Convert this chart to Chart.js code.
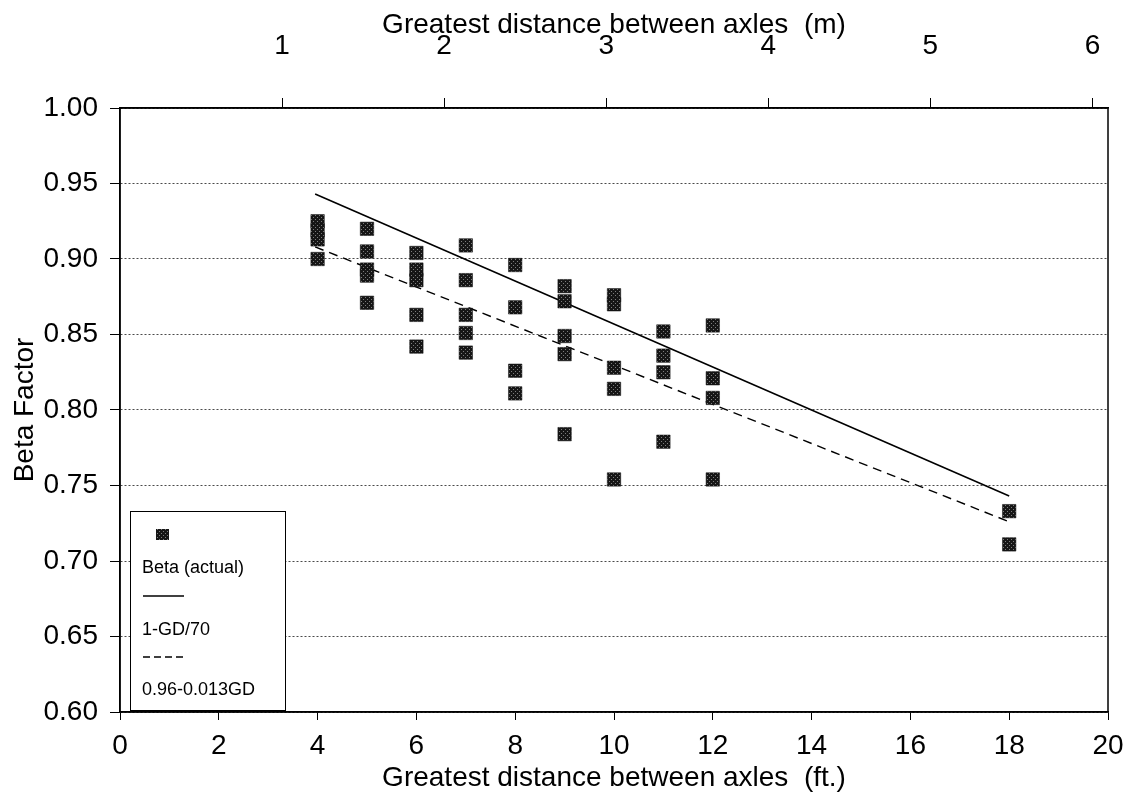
<!DOCTYPE html>
<html>
<head>
<meta charset="utf-8">
<title>Beta Factor vs greatest distance between axles</title>
<script src="https://cdn.jsdelivr.net/npm/chart.js@4.4.1/dist/chart.umd.min.js"></script>
<style>
  html, body { margin: 0; padding: 0; background: #fff; }
</style>
</head>
<body>
<canvas id="myChart" width="1129" height="799"></canvas>
<script>
'use strict';

let gdFt = [
    4, 4, 4, 4,
    5, 5, 5, 5, 5,
    6, 6, 6, 6, 6,
    7, 7, 7, 7, 7,
    8, 8, 8, 8,
    9, 9, 9, 9, 9,
    10, 10, 10, 10, 10,
    11, 11, 11, 11,
    12, 12, 12, 12,
    18, 18
];
let betaActual = [
    0.925, 0.919, 0.913, 0.900,
    0.920, 0.905, 0.893, 0.889, 0.871,
    0.904, 0.893, 0.886, 0.863, 0.842,
    0.909, 0.886, 0.863, 0.851, 0.838,
    0.896, 0.868, 0.826, 0.811,
    0.882, 0.872, 0.849, 0.837, 0.784,
    0.876, 0.870, 0.828, 0.814, 0.754,
    0.852, 0.836, 0.825, 0.779,
    0.856, 0.821, 0.808, 0.754,
    0.733, 0.711
];

// the two fitted lines, end points only
let lineGD = [3.95, 18];
let lineSolid = [0.943, 0.743];
let lineDashed = [0.908, 0.726];

let seriesNames = ['Beta (actual)', '1-GD/70', '0.96-0.013GD'];
let metreTicks = [1, 2, 3, 4, 5, 6];

const FT_PER_M = 3.28084;
const FONT = '"Liberation Sans", Arial, Helvetica, sans-serif';

let canvas = document.getElementById('myChart');
let ctx = canvas.getContext('2d');

// black square with a light dot texture, like the scanned markers
function markerPattern() {
    let c = document.createElement('canvas');
    c.width = 4;
    c.height = 4;
    let g = c.getContext('2d');
    g.fillStyle = '#161616';
    g.fillRect(0, 0, 4, 4);
    g.fillStyle = '#7d7d7d';
    g.fillRect(1, 1, 1, 1);
    g.fillRect(3, 3, 1, 1);
    return ctx.createPattern(c, 'repeat');
}
let markerFill = markerPattern();

function toPoints(xs, ys) {
    let out = [];
    for (let i = 0; i < xs.length; i++) {
        out.push({x: xs[i], y: ys[i]});
    }
    return out;
}

let framePlugin = {
    id: 'frame',
    afterDatasetsDraw(chart) {
        let a = chart.chartArea;
        let c = chart.ctx;
        c.save();
        c.strokeStyle = '#000';
        c.lineWidth = 1.5;
        c.strokeRect(a.left, a.top, a.right - a.left, a.bottom - a.top);
        c.restore();
    }
};

let legendPlugin = {
    id: 'legendBox',
    afterDatasetsDraw(chart) {
        let a = chart.chartArea;
        let c = chart.ctx;
        let sets = chart.data.datasets;
        let x = a.left + 10;
        let y = a.bottom - 201;
        c.save();
        c.fillStyle = '#fff';
        c.fillRect(x, y, 155, 199);
        c.strokeStyle = '#000';
        c.lineWidth = 1;
        c.strokeRect(x + 0.5, y + 0.5, 155, 199);

        c.fillStyle = markerFill;
        c.fillRect(x + 26, y + 18, 13, 11);

        c.fillStyle = '#000';
        c.font = '18px ' + FONT;
        c.textBaseline = 'middle';
        c.textAlign = 'left';
        c.fillText(sets[0].label, x + 12, y + 57);

        c.lineWidth = 1.3;
        c.beginPath();
        c.moveTo(x + 13, y + 85);
        c.lineTo(x + 54, y + 85);
        c.stroke();
        c.fillText(sets[1].label, x + 12, y + 119);

        c.setLineDash([7, 4]);
        c.beginPath();
        c.moveTo(x + 13, y + 146);
        c.lineTo(x + 54, y + 146);
        c.stroke();
        c.setLineDash([]);
        c.fillText(sets[2].label, x + 12, y + 179);
        c.restore();
    }
};

let tickFont = {family: FONT, size: 28};
let titleFont = {family: FONT, size: 28};

function fitHorizontal(height) {
    return function(s) {
        s.height = height;
        s.paddingLeft = 0;
        s.paddingRight = 0;
    };
}

let myChart = new Chart(ctx, {
    type: 'scatter',
    data: {
        datasets: [{
            label: seriesNames[0],
            data: toPoints(gdFt, betaActual),
            pointStyle: 'rect',
            pointRadius: 9.5,
            pointHoverRadius: 9.5,
            backgroundColor: markerFill,
            borderColor: '#111',
            borderWidth: 0.5,
            xAxisID: 'x',
            yAxisID: 'y'
        }, {
            label: seriesNames[1],
            data: toPoints(lineGD, lineSolid),
            showLine: true,
            pointRadius: 0,
            borderColor: '#000',
            borderWidth: 1.6,
            xAxisID: 'x',
            yAxisID: 'y'
        }, {
            label: seriesNames[2],
            data: toPoints(lineGD, lineDashed),
            showLine: true,
            pointRadius: 0,
            borderColor: '#000',
            borderWidth: 1.4,
            borderDash: [9, 6],
            xAxisID: 'x',
            yAxisID: 'y'
        }]
    },
    options: {
        responsive: false,
        animation: false,
        layout: {padding: {left: 0, right: 21, top: 0, bottom: 0}},
        plugins: {
            legend: {display: false},
            tooltip: {enabled: false}
        },
        scales: {
            x: {
                type: 'linear',
                position: 'bottom',
                min: 0,
                max: 20,
                ticks: {stepSize: 2, color: '#000', font: tickFont, padding: 9, maxRotation: 0},
                grid: {drawOnChartArea: false, tickLength: 8, tickColor: '#000', tickWidth: 1},
                border: {display: true, color: '#000', width: 1.5},
                title: {
                    display: true,
                    text: 'Greatest distance between axles  (ft.)',
                    color: '#000',
                    font: titleFont,
                    padding: {top: 0, bottom: 4}
                },
                afterFit: fitHorizontal(87)
            },
            x2: {
                type: 'linear',
                position: 'top',
                min: 0,
                max: 20 / FT_PER_M,
                afterBuildTicks: function(s) {
                    s.ticks = metreTicks.map(v => ({value: v}));
                },
                ticks: {color: '#000', font: tickFont, padding: 35, maxRotation: 0, callback: v => String(v)},
                grid: {drawOnChartArea: false, tickLength: 10, tickColor: '#000', tickWidth: 1},
                border: {display: true, color: '#000', width: 1.5},
                title: {
                    display: true,
                    text: 'Greatest distance between axles  (m)',
                    color: '#000',
                    font: titleFont,
                    padding: {top: 8, bottom: 0}
                },
                afterFit: fitHorizontal(108)
            },
            y: {
                type: 'linear',
                min: 0.6,
                max: 1.0,
                ticks: {stepSize: 0.05, color: '#000', font: tickFont, padding: 12, callback: v => v.toFixed(2)},
                grid: {color: '#4a4a4a', lineWidth: 1, tickLength: 10, tickColor: '#000', tickWidth: 1, tickBorderDash: []},
                border: {display: true, color: '#000', width: 1.5, dash: [2, 2]},
                title: {
                    display: true,
                    text: 'Beta Factor',
                    color: '#000',
                    font: titleFont,
                    padding: {top: 8, bottom: 0}
                },
                afterFit: function(s) {
                    s.width = 120;
                    s.paddingTop = 0;
                    s.paddingBottom = 0;
                }
            }
        }
    },
    plugins: [framePlugin, legendPlugin]
});
</script>
</body>
</html>
